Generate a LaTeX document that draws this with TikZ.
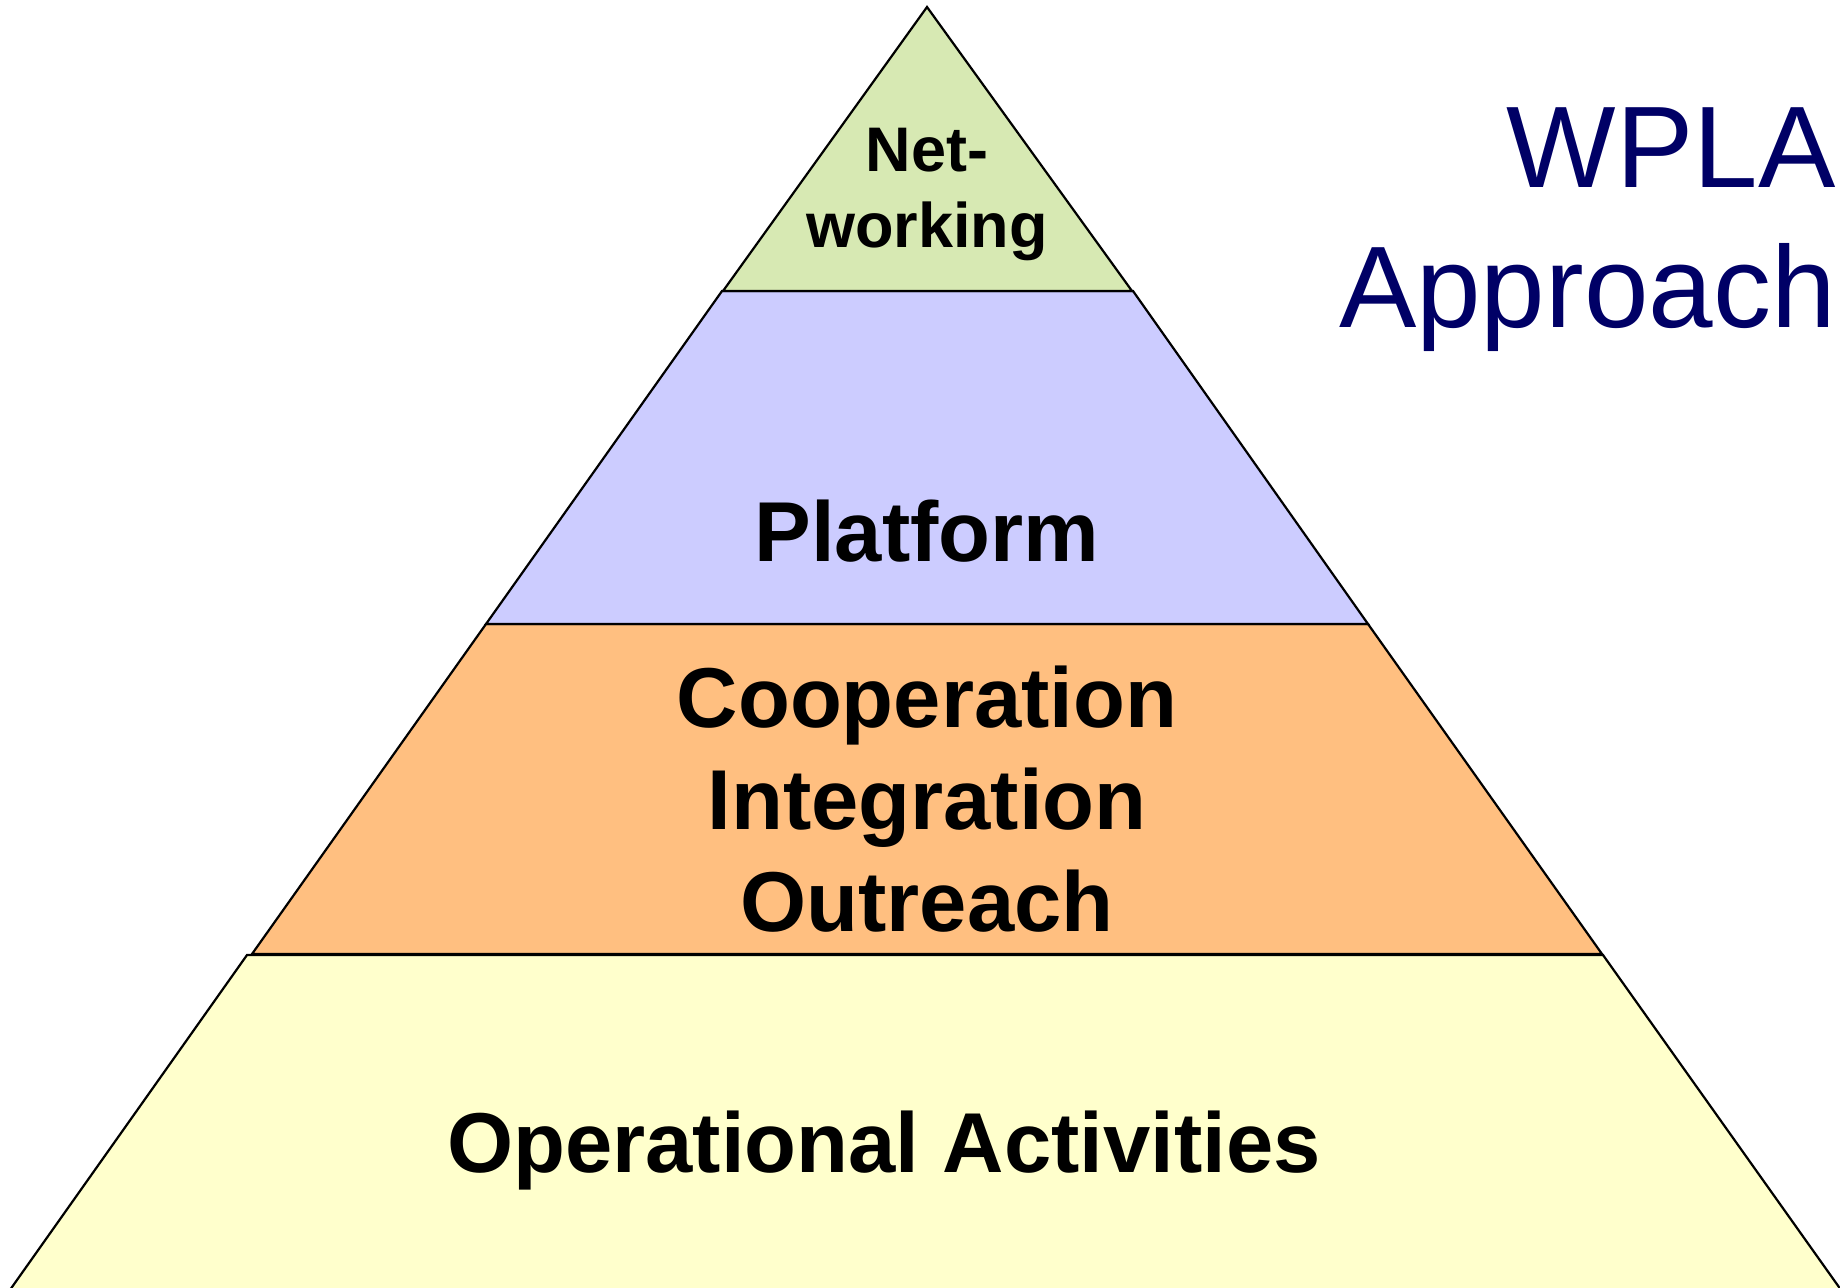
\documentclass[tikz,border=0pt]{standalone}
\usepackage{fontspec}
\setmainfont{Liberation Sans}
\definecolor{netgreen}{RGB}{215,233,179}
\definecolor{platblue}{RGB}{204,204,255}
\definecolor{cooporange}{RGB}{255,191,128}
\definecolor{opyellow}{RGB}{255,255,204}
\definecolor{wplanavy}{RGB}{0,0,102}
\begin{document}
\begin{tikzpicture}[x=0.5pt,y=-0.5pt,
  layerbox/.style={draw=black,line width=1.1pt,line join=miter},
  biglbl/.style={font=\bfseries\fontsize{42.5}{49}\selectfont,anchor=base,inner sep=0pt},
  smalllbl/.style={font=\bfseries\fontsize{31.5}{38}\selectfont,anchor=base,inner sep=0pt},
  titlelbl/.style={font=\fontsize{58}{68}\selectfont,text=wplanavy,anchor=base east,inner sep=0pt}]
\useasboundingbox (0,0) rectangle (1840,1287);
\clip (0,0) rectangle (1840,1287);
% layers
\filldraw[layerbox,fill=opyellow] (247,955) -- (1603,955) -- (1851,1304) -- (0,1304) -- cycle;
\filldraw[layerbox,fill=cooporange] (486,624) -- (1368,624) -- (1602,954) -- (252,954) -- cycle;
\filldraw[layerbox,fill=platblue] (722,291) -- (1133,291) -- (1368,624) -- (486,624) -- cycle;
\filldraw[layerbox,fill=netgreen] (927,7) -- (1132,291) -- (723,291) -- cycle;
% labels
\node[smalllbl] (net1) at (927,171) {Net-};
\node[smalllbl] (net2) at (927,247) {working};
\node[biglbl] (plat) at (927,561) {Platform};
\node[biglbl] (coop) at (927,727) {Cooperation};
\node[biglbl] (integ) at (927,829) {Integration};
\node[biglbl] (outr) at (927,931) {Outreach};
\node[biglbl] (oper) at (884,1172) {Operational Activities};
\node[titlelbl] (wpla) at (1836,187) {WPLA};
\node[titlelbl] (appr) at (1836,327) {Approach};
\end{tikzpicture}
\end{document}
